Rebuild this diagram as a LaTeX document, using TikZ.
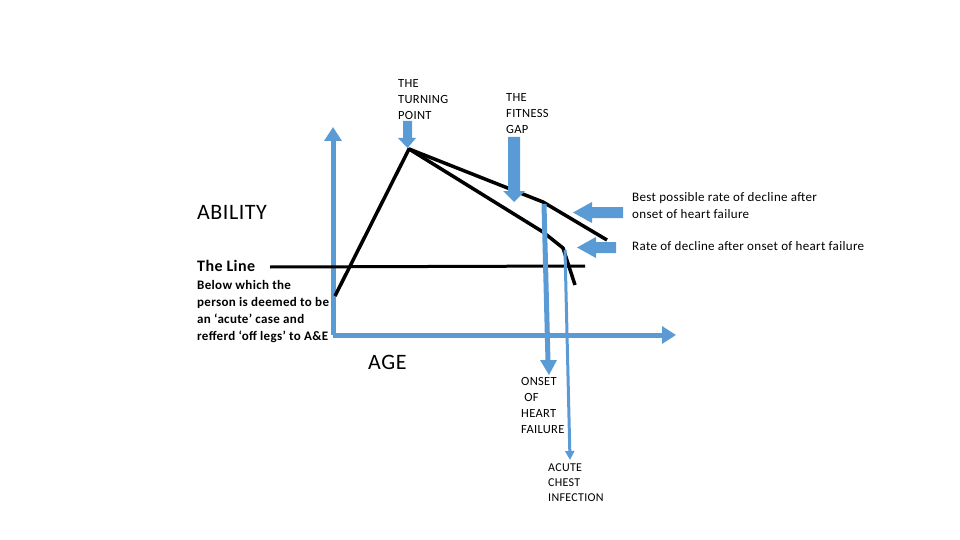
\documentclass[tikz,border=0pt]{standalone}
\usepackage{fontspec}
\setmainfont{Carlito}[LetterSpace=2.5]
\usetikzlibrary{arrows.meta}
\definecolor{ablue}{RGB}{91,155,213}
\tikzset{
  lbl/.style={anchor=base west, inner sep=0pt, align=left, font=\fontsize{12.5}{16}\selectfont},
  big/.style={anchor=base west, inner sep=0pt, font=\fontsize{22}{26}\selectfont},
  boldlbl/.style={anchor=base west, inner sep=0pt, align=left, font=\bfseries\fontsize{13}{17}\selectfont},
  axis/.style={ablue, line width=5pt, -{Triangle[length=14pt,width=17pt]}},
  curve/.style={black, line width=3.5pt, line join=round},
  blockarrow/.style={fill=ablue, draw=none},
  thinarrow/.style={ablue, line width=3pt, -{Triangle[length=9pt,width=9pt]}},
}
\begin{document}
\begin{tikzpicture}[x=1pt,y=-1pt]
\useasboundingbox (0,0) rectangle (960,540);
% key points
\coordinate (corner) at (333,335);
\coordinate (ytop) at (333,127);
\coordinate (xend) at (676,335);
\coordinate (start) at (335,296);
\coordinate (turn) at (409,149);
\coordinate (u1) at (543,202);
\coordinate (u2) at (607,240);
\coordinate (l1) at (543,232);
\coordinate (l2) at (563,248);
\coordinate (l3) at (575,285);
\coordinate (lineL) at (270,267);
\coordinate (lineR) at (585,266);
\coordinate (onsetTop) at (544,204);
\coordinate (onsetEnd) at (548,362);
\coordinate (acuteTop) at (565,250);
\coordinate (acuteEnd) at (570,460);

% axes
\draw[axis] (corner) -- (ytop);
\draw[axis] (corner) -- (xend);

% the line
\draw[black, line width=3pt] (lineL) -- (lineR);

% curves
\draw[curve] (start) -- (turn) -- (u1) -- (u2);
\draw[curve] (turn) -- (l1) -- (l2) -- (l3);

% onset arrow
\draw[ablue, line width=5pt] (onsetTop) -- (onsetEnd);
\fill[blockarrow] (540,360) -- (557,360) -- (549,375) -- cycle;
% acute chest infection arrow
\draw[thinarrow] (acuteTop) -- (acuteEnd);

% turning point block arrow
\fill[blockarrow] (403,121) -- (412,121) -- (412,138) -- (416,138) -- (407.5,148) -- (398,138) -- (403,138) -- cycle;
% fitness gap block arrow
\fill[blockarrow] (508,137) -- (520,137) -- (520,191) -- (525,191) -- (514,202) -- (503,191) -- (508,191) -- cycle;
% best possible arrow
\fill[blockarrow] (623,207) -- (592,207) -- (592,202) -- (573,212.5) -- (592,223) -- (592,218) -- (623,218) -- cycle;
% rate of decline arrow
\fill[blockarrow] (616,242) -- (596,242) -- (596,237) -- (577,247.5) -- (596,258) -- (596,253) -- (616,253) -- cycle;

% texts (base anchor = baseline of last line)
\node[lbl] (tp) at (398,120) {THE\\TURNING\\POINT};
\node[lbl] (fg) at (506,134) {THE\\FITNESS\\GAP};
\node[big] (ability) at (197,219) {ABILITY};
\node[lbl, font=\fontsize{13}{17}\selectfont] (best) at (632,218) {Best possible rate of decline after\\onset of heart failure};
\node[lbl, font=\fontsize{13}{17}\selectfont] (rate) at (632,250) {Rate of decline after onset of heart failure};
\node[boldlbl, font=\bfseries\fontsize{16}{17}\selectfont] (theline) at (197,271) {The Line};
\node[boldlbl] (below) at (197,340) {Below which the\\person is deemed to be\\an ‘acute’ case and\\refferd ‘off legs’ to A\&E};
\node[big] (age) at (368,369) {AGE};
\node[lbl] (onset) at (521,433) {ONSET\\\ OF\\HEART\\FAILURE};
\node[lbl, font=\fontsize{12}{15}\selectfont] (acute) at (548,501) {ACUTE\\CHEST\\INFECTION};
\end{tikzpicture}
\end{document}
